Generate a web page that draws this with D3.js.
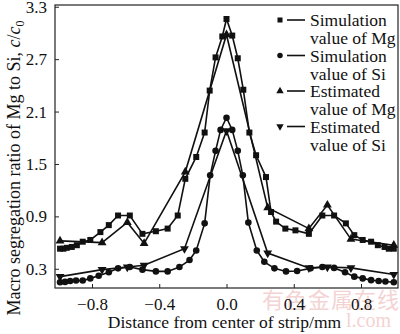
<!DOCTYPE html>
<html>
<head>
<meta charset="utf-8">
<script src="https://cdn.jsdelivr.net/npm/d3@7"></script>
<style>
  body { margin: 0; background: #fff; }
  svg { display: block; }
  text { font-family: 'Liberation Serif', 'Times New Roman', serif; fill: #111; }
</style>
</head>
<body>
<svg id="chart" width="400" height="334"></svg>
<script>
// Simulation value of Mg (squares)
const simMgX = [-0.99, -0.97, -0.95, -0.92, -0.89, -0.855, -0.81, -0.75, -0.70, -0.645, -0.575, -0.50, -0.42, -0.35, -0.29, -0.245, -0.18, -0.13, -0.10, -0.065, -0.025, 0, 0.034, 0.067, 0.10, 0.136, 0.176, 0.235, 0.265, 0.295, 0.35, 0.41, 0.49, 0.57, 0.64, 0.71, 0.76, 0.81, 0.86, 0.90, 0.94, 0.965, 0.995];
const simMgY = [0.53, 0.53, 0.54, 0.55, 0.57, 0.61, 0.63, 0.72, 0.80, 0.91, 0.91, 0.70, 0.73, 0.76, 0.91, 1.33, 1.58, 1.86, 2.34, 2.72, 2.96, 3.16, 2.97, 2.71, 2.35, 1.86, 1.60, 1.35, 0.95, 0.84, 0.76, 0.74, 0.70, 0.91, 0.91, 0.82, 0.685, 0.63, 0.61, 0.57, 0.55, 0.53, 0.53];

// Simulation value of Si (circles)
const simSiX = [-0.99, -0.96, -0.93, -0.895, -0.855, -0.81, -0.76, -0.70, -0.645, -0.575, -0.50, -0.42, -0.35, -0.28, -0.22, -0.18, -0.13, -0.097, -0.065, -0.035, 0, 0.034, 0.067, 0.097, 0.13, 0.18, 0.225, 0.285, 0.354, 0.42, 0.50, 0.57, 0.64, 0.705, 0.76, 0.81, 0.86, 0.905, 0.945, 0.995];
const simSiY = [0.145, 0.15, 0.16, 0.165, 0.165, 0.19, 0.22, 0.26, 0.305, 0.32, 0.29, 0.27, 0.27, 0.32, 0.40, 0.51, 0.82, 1.37, 1.65, 1.89, 2.03, 1.89, 1.65, 1.37, 0.83, 0.51, 0.38, 0.305, 0.27, 0.275, 0.305, 0.32, 0.31, 0.26, 0.21, 0.19, 0.17, 0.16, 0.155, 0.145];

// Estimated value of Mg (triangles)
const estMgX = [-0.99, -0.74, -0.59, -0.49, -0.245, 0, 0.245, 0.49, 0.60, 0.74, 0.995];
const estMgY = [0.62, 0.60, 0.83, 0.59, 1.41, 2.98, 1.00, 0.76, 1.03, 0.64, 0.57];

// Estimated value of Si (inverted triangles)
const estSiX = [-0.99, -0.74, -0.59, -0.49, -0.25, 0, 0.245, 0.49, 0.60, 0.74, 0.995];
const estSiY = [0.21, 0.29, 0.32, 0.34, 0.53, 1.88, 0.48, 0.31, 0.32, 0.31, 0.235];

const xTicks = [-0.8, -0.4, 0, 0.4, 0.8];
const yTicks = [0.3, 0.9, 1.5, 2.1, 2.7, 3.3];

const legendNames = [
  ['Simulation', 'value of Mg'],
  ['Simulation', 'value of Si'],
  ['Estimated', 'value of Mg'],
  ['Estimated', 'value of Si']
];

const margin = { top: 5, right: 2, bottom: 46, left: 55 };
const width = 400 - margin.left - margin.right;
const height = 334 - margin.top - margin.bottom;
const serif = "'Liberation Serif', 'Times New Roman', serif";

const svg = d3.select('#chart');

// watermark
svg.append('text')
  .attr('x', 262).attr('y', 308)
  .attr('font-size', 22)
  .style('font-family', "'Noto Sans CJK SC', sans-serif")
  .style('fill', '#f3d3d3')
  .attr('letter-spacing', '1')
  .text('有色金属在线');
svg.append('text')
  .attr('x', 346).attr('y', 327)
  .attr('font-size', 20)
  .style('fill', '#f3d3d3')
  .text('l.com');

const g = svg.append('g')
  .attr('transform', `translate(${margin.left},${margin.top})`);

const x = d3.scaleLinear().domain([-1.02, 1.02]).range([0, width]);
const y = d3.scaleLinear().domain([0.08, 3.32]).range([height, 0]);

// axes with inward ticks
const xAxis = g.append('g')
  .attr('transform', `translate(0,${height})`)
  .call(d3.axisBottom(x).tickValues(xTicks).tickSizeInner(-4).tickSizeOuter(0)
    .tickPadding(10).tickFormat(d3.format('.1f')));
const yAxis = g.append('g')
  .call(d3.axisLeft(y).tickValues(yTicks).tickSizeInner(-4).tickSizeOuter(0)
    .tickPadding(8).tickFormat(d3.format('.1f')));

[xAxis, yAxis].forEach(ax => {
  ax.attr('font-family', serif).attr('font-size', 17);
  ax.selectAll('text').style('font-family', serif).attr('fill', '#111');
});
g.selectAll('.domain').remove();
g.selectAll('.tick line').attr('stroke', '#222').attr('stroke-width', 1);

// frame
g.append('rect')
  .attr('width', width).attr('height', height)
  .attr('fill', 'none').attr('stroke', '#222').attr('stroke-width', 1.2);

// axis titles
svg.append('text')
  .attr('x', margin.left + x(0) - 2).attr('y', 328)
  .attr('text-anchor', 'middle')
  .attr('font-size', 17.5)
  .text('Distance from center of strip/mm');

const yt = svg.append('text')
  .attr('transform', `translate(20,${168}) rotate(-90)`)
  .attr('text-anchor', 'middle')
  .attr('font-size', 18);
yt.append('tspan').text('Macro segregation ratio of Mg to Si, ');
yt.append('tspan').style('font-style', 'italic').text('c');
yt.append('tspan').text('/');
yt.append('tspan').style('font-style', 'italic').text('c');
yt.append('tspan').attr('dy', 4).attr('font-size', 12).text('0');

const series = [
  { xs: simMgX, ys: simMgY, sym: d3.symbolSquare, size: 36, rot: 0 },
  { xs: simSiX, ys: simSiY, sym: d3.symbolCircle, size: 34, rot: 0 },
  { xs: estMgX, ys: estMgY, sym: d3.symbolTriangle, size: 34, rot: 0 },
  { xs: estSiX, ys: estSiY, sym: d3.symbolTriangle, size: 34, rot: 180 }
];

const line = d3.line().x(d => x(d[0])).y(d => y(d[1]));

series.forEach(s => {
  const pts = s.xs.map((v, i) => [v, s.ys[i]]);
  g.append('path')
    .attr('d', line(pts))
    .attr('fill', 'none')
    .attr('stroke', '#111')
    .attr('stroke-width', 1.6);
  g.selectAll(null)
    .data(pts)
    .enter()
    .append('path')
    .attr('d', d3.symbol().type(s.sym).size(s.size))
    .attr('transform', d => `translate(${x(d[0])},${y(d[1])}) rotate(${s.rot})`)
    .attr('fill', '#111');
});

// legend
const legend = svg.append('g');
series.forEach((s, i) => {
  const ly = 20 + i * 35.5;
  legend.append('path')
    .attr('d', d3.symbol().type(s.sym).size(s.size * 0.7))
    .attr('transform', `translate(280,${ly}) rotate(${s.rot})`)
    .attr('fill', '#111');
  legend.append('line')
    .attr('x1', 287).attr('x2', 305)
    .attr('y1', ly).attr('y2', ly)
    .attr('stroke', '#111').attr('stroke-width', 1.6);
  legend.append('text')
    .attr('x', 310).attr('y', ly + 6)
    .attr('font-size', 17.5)
    .text(legendNames[i][0]);
  legend.append('text')
    .attr('x', 310).attr('y', ly + 24)
    .attr('font-size', 17.5)
    .text(legendNames[i][1]);
});
</script>
</body>
</html>
